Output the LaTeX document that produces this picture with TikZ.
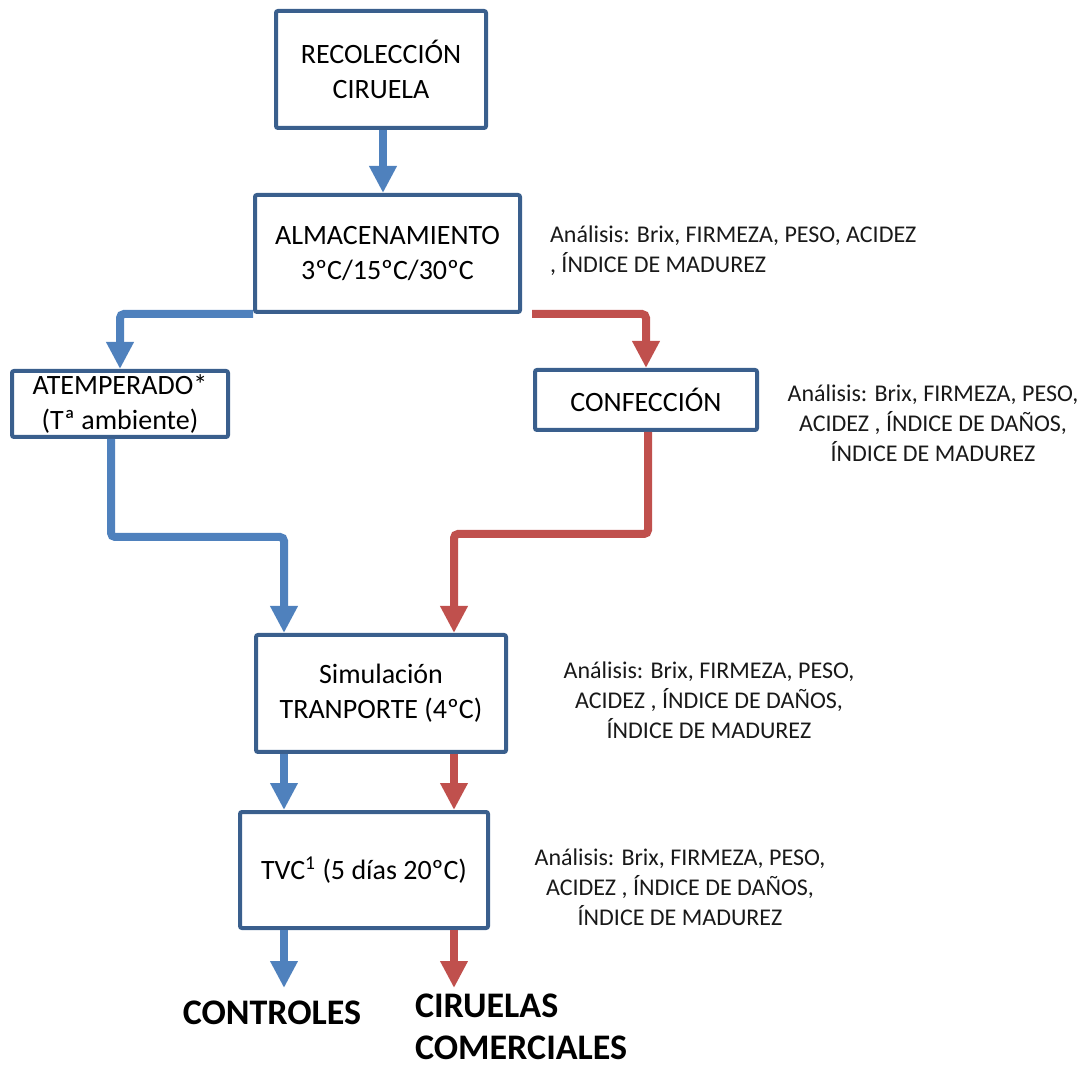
\documentclass[tikz,border=0pt]{standalone}
\usepackage{fontspec}
\setmainfont{Carlito}
\usetikzlibrary{arrows.meta}
\definecolor{boxblue}{HTML}{3A5F8D}
\definecolor{flowblue}{HTML}{4F81BD}
\definecolor{flowred}{HTML}{C0504D}

\begin{document}
\begin{tikzpicture}[x=0.5pt,y=-0.5pt,
        box/.style={draw=boxblue, line width=2pt, rounded corners=1pt, align=center,
            inner sep=0pt, font=\fontsize{14}{17.5}\selectfont},
        note/.style={align=center, text=black!90, font=\fontsize{12}{15}\selectfont},
        result/.style={align=left, font=\bfseries\fontsize{18}{21}\selectfont},
        flow/.style={line width=4pt, rounded corners=2pt, -{Triangle[width=13pt,length=13.5pt]}},
        bluearrow/.style={flow, draw=flowblue},
        redarrow/.style={flow, draw=flowred}]
        \useasboundingbox (0,0) rectangle (1092,1068);
        % Draw the boxes
        \node[box, minimum width=105pt, minimum height=58.5pt] (rec) at (381,69.5) {RECOLECCIÓN\\CIRUELA};
        \node[box, minimum width=132.5pt, minimum height=58.5pt] (alm) at (387.5,253.5) {ALMACENAMIENTO\\3ºC/15ºC/30ºC};
        \node[box, minimum width=108pt, minimum height=33pt] (atem) at (120,404) {ATEMPERADO*\\(Tª ambiente)};
        \node[box, minimum width=111pt, minimum height=30pt] (conf) at (646,400) {CONFECCIÓN};
        \node[box, minimum width=125pt, minimum height=58.5pt] (sim) at (381,693.5) {Simulación\\TRANPORTE (4ºC)};
        \node[box, minimum width=124pt, minimum height=58pt] (tvc) at (364,870) {TVC\textsuperscript{1} (5 días 20ºC)};
        % Label the analyses
        \node[note, anchor=west, align=left] (alminfo) at (543,251) {Análisis: Brix, FIRMEZA, PESO, ACIDEZ\\, ÍNDICE DE MADUREZ};
        \node[note] (confinfo) at (933,423) {Análisis: Brix, FIRMEZA, PESO,\\ACIDEZ , ÍNDICE DE DAÑOS,\\ÍNDICE DE MADUREZ};
        \node[note] (siminfo) at (709,700) {Análisis: Brix, FIRMEZA, PESO,\\ACIDEZ , ÍNDICE DE DAÑOS,\\ÍNDICE DE MADUREZ};
        \node[note] (tvcinfo) at (680,887) {Análisis: Brix, FIRMEZA, PESO,\\ACIDEZ , ÍNDICE DE DAÑOS,\\ÍNDICE DE MADUREZ};
        % Label the outputs
        \node[result] (controles) at (272,1013) {CONTROLES};
        \node[result, anchor=west, inner ysep=1pt] (comerciales) at (408,1027) {CIRUELAS\\COMERCIALES};
        % Coordinates
        \coordinate (bbend) at (111,537);
        \coordinate (rbend) at (648,534);
        \coordinate (cend) at (284,988);
        \coordinate (pend) at (454,988);
        % Draw the flows
        \draw[bluearrow] ([xshift=1pt]rec.south) -- ([xshift=1pt]rec.south |- alm.north);
        \draw[bluearrow] (alm.south west) -| (atem.north);
        \draw[redarrow] ([xshift=5pt]alm.south east) -| (conf.north);
        \draw[bluearrow] ([xshift=-4.5pt]atem.south) -- (bbend) -| ([xshift=-48.5pt]sim.north);
        \draw[redarrow] ([xshift=1pt]conf.south) -- (rbend) -| ([xshift=36.5pt]sim.north);
        \draw[bluearrow] ([xshift=-48.5pt]sim.south) -- ([xshift=-48.5pt]sim.south |- tvc.north);
        \draw[redarrow] ([xshift=36.5pt]sim.south) -- ([xshift=36.5pt]sim.south |- tvc.north);
        \draw[bluearrow] (tvc.south -| cend) -- (cend);
        \draw[redarrow] (tvc.south -| pend) -- (pend);
    \end{tikzpicture}
\end{document}
